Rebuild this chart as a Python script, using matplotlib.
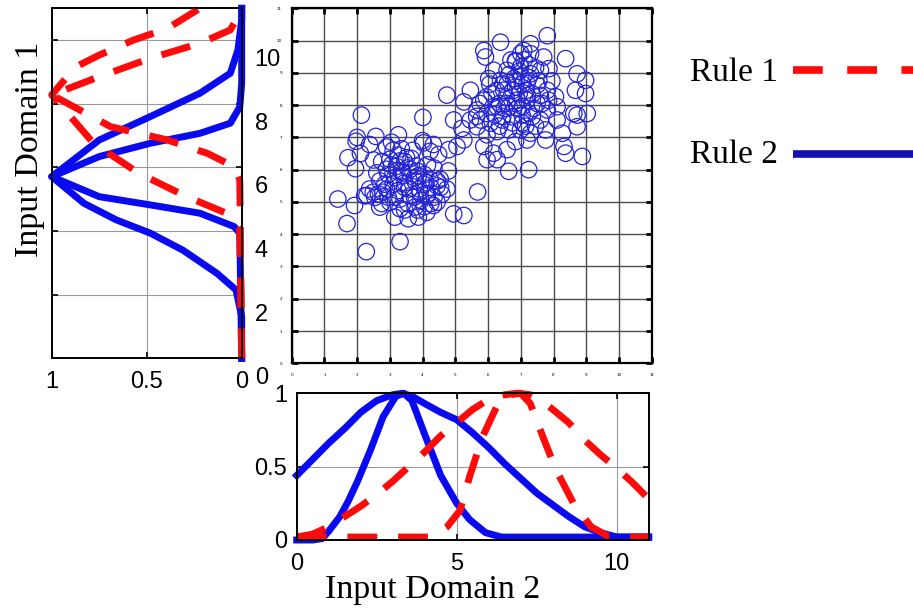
"""
Reglas difusas sobre dos dominios de entrada: nube de puntos en el centro,
funciones de pertenencia proyectadas a la izquierda (dominio 1) y abajo (dominio 2).
"""

import matplotlib.pyplot as plt
from matplotlib.lines import Line2D
from matplotlib.transforms import ScaledTranslation

# ---------------------------------------------------------------
# Datos
# ---------------------------------------------------------------
# grupo 1 (abajo-izquierda)
pts1_x = [2.13, 4.01, 1.97, 2.57, 3.26, 2.38, 1.72, 1.95, 1.41, 1.92, 1.69, 2.28,
          3.31, 4.03, 4.33, 4.23, 4.49, 4.79, 4.95, 5.26, 3.00, 3.31, 3.51, 2.90,
          3.21, 3.62, 3.82, 2.69, 2.38, 2.23, 2.54, 2.90, 3.10, 3.46, 3.77, 4.03,
          4.23, 4.44, 3.92, 4.13, 3.62, 3.31, 3.00, 2.69, 3.15, 3.56, 3.87, 4.13,
          4.44, 4.59, 4.33, 2.79, 3.41, 3.87, 4.54, 4.74, 2.49, 3.31, 3.77, 5.68,
          4.80, 3.20, 3.40, 3.90, 4.10, 3.60, 2.60, 2.10, 2.50, 2.00, 2.30, 3.70,
          4.00, 3.10, 2.90,
          3.05, 3.25, 3.45, 3.65, 3.35, 3.55, 3.15, 2.95, 3.75, 3.45, 3.85, 4.05,
          4.25, 4.15, 3.95, 4.35, 3.75, 3.55, 4.05, 3.25, 2.85, 2.65, 2.95, 4.45,
          3.35, 3.05, 4.15, 4.35, 2.75, 3.85, 4.25, 3.45, 2.75, 3.15, 4.55]
pts1_y = [7.69, 7.62, 6.88, 7.03, 7.08, 6.78, 6.37, 6.03, 5.09, 4.89, 4.33, 3.46,
          3.77, 6.83, 6.78, 6.57, 6.47, 5.96, 4.63, 4.58, 6.32, 6.27, 6.37, 6.01,
          5.96, 6.01, 6.11, 5.65, 5.40, 5.19, 5.14, 5.40, 5.55, 5.60, 5.65, 5.55,
          5.70, 5.50, 5.30, 5.19, 5.19, 5.09, 4.99, 4.84, 4.53, 4.48, 4.53, 4.68,
          4.99, 5.24, 4.89, 5.30, 5.81, 5.81, 5.70, 5.40, 5.30, 4.79, 4.84, 5.31,
          6.62, 6.10, 5.90, 5.40, 5.60, 5.40, 5.90, 6.50, 6.30, 7.00, 5.20, 6.60,
          6.90, 6.60, 6.70,
          6.15, 6.45, 6.25, 6.35, 5.95, 6.05, 5.75, 5.85, 5.75, 5.45, 5.95, 5.85,
          5.45, 5.25, 5.05, 5.15, 5.15, 4.95, 4.85, 5.35, 5.55, 5.25, 5.15, 5.65,
          6.65, 6.85, 6.15, 6.05, 6.25, 4.75, 4.95, 4.75, 4.95, 5.15, 5.45]

# grupo 2 (arriba-derecha)
pts2_x = [7.81, 6.38, 5.87, 5.92, 7.09, 7.30, 7.70, 8.37, 6.84, 6.99, 6.58, 6.17,
          6.02, 6.38, 6.79, 7.30, 7.60, 7.86, 8.72, 8.98, 8.98, 8.67, 9.03, 8.72,
          4.74, 5.46, 5.26, 4.95, 5.20, 5.05, 5.26, 5.66, 5.87, 6.12, 6.48, 6.84,
          7.19, 7.50, 7.81, 8.06, 8.11, 7.81, 7.50, 7.19, 6.89, 6.58, 6.28, 5.97,
          5.77, 6.07, 6.43, 6.73, 7.04, 7.35, 7.60, 7.76, 7.30, 6.99, 6.63, 6.28,
          5.97, 5.66, 5.46, 5.87, 6.17, 6.58, 6.28, 6.63, 7.24, 7.19, 7.76, 8.32,
          8.37, 8.72, 8.88, 8.62, 8.11, 5.97, 6.84, 8.27, 6.60, 7.00, 7.20, 6.90,
          7.40, 7.10, 6.70, 7.60, 6.20, 6.50, 7.00, 7.30,
          6.55, 6.75, 6.95, 7.15, 7.35, 6.45, 6.85, 7.05, 7.25, 6.65, 6.95, 7.45,
          6.25, 6.35, 6.65, 6.85, 7.05, 7.25, 6.45, 6.15, 5.95, 6.05, 7.55, 7.65,
          7.85, 7.95, 6.35, 6.75, 7.15, 6.85, 7.25, 5.75, 5.65, 7.45, 7.05]
pts2_y = [10.15, 9.95, 9.69, 9.49, 9.69, 9.59, 9.49, 9.44, 9.38, 9.18, 9.08, 9.08,
          8.82, 8.77, 8.82, 8.97, 9.08, 9.13, 8.97, 8.77, 8.36, 8.46, 7.74, 7.69,
          8.31, 8.46, 8.10, 7.54, 7.28, 6.72, 6.92, 7.85, 8.15, 8.36, 8.46, 8.56,
          8.67, 8.62, 8.46, 8.26, 7.95, 7.85, 8.05, 8.15, 8.15, 8.05, 7.95, 7.74,
          7.54, 7.44, 7.54, 7.64, 7.69, 7.64, 7.54, 7.23, 7.13, 7.23, 7.23, 7.18,
          7.08, 7.33, 7.54, 6.72, 6.51, 6.62, 6.31, 5.95, 6.00, 6.92, 6.92, 6.72,
          6.51, 7.33, 6.41, 7.74, 7.54, 6.31, 6.87, 7.13, 8.70, 8.90, 8.30, 7.90,
          7.90, 9.40, 9.40, 8.30, 7.70, 7.90, 9.60, 9.90,
          8.25, 8.45, 8.35, 8.45, 8.35, 8.65, 8.75, 8.65, 8.85, 8.95, 9.05, 9.15,
          8.45, 8.05, 7.95, 8.05, 7.95, 7.75, 7.65, 7.95, 8.25, 8.65, 8.75, 8.05,
          8.15, 8.75, 7.35, 7.45, 7.35, 9.35, 9.25, 8.05, 7.65, 7.35, 7.45]

# pertenencias en el dominio 2 (panel inferior)
r1_ancha_x2 = [0, 0.5, 1, 1.5, 2, 2.5, 3, 3.5, 4, 4.5, 5, 5.5, 6, 6.5, 6.9, 7.3,
               7.6, 8, 8.5, 9, 9.5, 10, 10.5, 11]
r1_ancha_mu2 = [0.02, 0.04, 0.09, 0.16, 0.23, 0.31, 0.40, 0.50, 0.60, 0.71, 0.80,
                0.89, 0.96, 0.99, 1.0, 0.99, 0.96, 0.89, 0.80, 0.68, 0.58, 0.49,
                0.39, 0.28]
r1_estrecha_x2 = [0, 1, 2, 3, 4, 4.2, 4.7, 5.1, 5.4, 5.8, 6.25, 6.65, 7.0, 7.3,
                  7.7, 8.1, 8.65, 9.2, 9.7, 10.5, 11]
r1_estrecha_mu2 = [0.02, 0.02, 0.02, 0.02, 0.02, 0.02, 0.09, 0.20, 0.43, 0.70,
                   0.91, 0.99, 1.0, 0.93, 0.70, 0.48, 0.25, 0.09, 0.03, 0.02, 0.02]
r2_ancha_x2 = [0, 0.5, 1, 1.5, 2, 2.5, 3, 3.3, 3.6, 4, 4.5, 5, 5.5, 6, 6.5, 7,
               7.5, 8, 8.5, 9, 9.5, 10, 10.5, 11]
r2_ancha_mu2 = [0.44, 0.55, 0.66, 0.76, 0.87, 0.95, 0.99, 1.0, 0.98, 0.93, 0.87,
                0.82, 0.73, 0.63, 0.52, 0.42, 0.32, 0.24, 0.16, 0.09, 0.05, 0.02,
                0.02, 0.02]
r2_estrecha_x2 = [0, 0.5, 0.8, 1.0, 1.35, 1.6, 1.9, 2.3, 2.7, 3.1, 3.35, 3.6, 4.0,
                  4.5, 5.0, 5.4, 5.9, 6.4, 7, 8, 9, 10, 11]
r2_estrecha_mu2 = [0.0, 0.0, 0.01, 0.06, 0.16, 0.26, 0.40, 0.61, 0.84, 0.98, 1.0,
                   0.95, 0.72, 0.44, 0.25, 0.14, 0.05, 0.02, 0.02, 0.02, 0.02,
                   0.02, 0.02]

# pertenencias en el dominio 1 (panel izquierdo)
r1_ancha_x1 = [0, 4.03, 4.56, 5.08, 5.81, 6.76, 8.28, 8.7, 9.17, 9.53, 10.0, 10.37, 11]
r1_ancha_mu1 = [0, 0.01, 0.08, 0.29, 0.54, 0.78, 1.0, 0.94, 0.87, 0.75, 0.57, 0.39, 0.22]
r1_estrecha_x1 = [0, 5.6, 6.02, 6.44, 6.86, 7.28, 8.28, 8.85, 9.43, 9.9, 10.32, 10.84, 11]
r1_estrecha_mu1 = [0, 0.01, 0.04, 0.18, 0.39, 0.69, 1.0, 0.75, 0.48, 0.22, 0.06, 0.01, 0]
r2_ancha_x1 = [0, 1.31, 2.15, 2.67, 3.40, 3.93, 4.35, 4.87, 5.71, 6.86, 7.6, 8.33,
               8.96, 9.69, 10.63, 11]
r2_ancha_mu1 = [0, 0, 0.03, 0.13, 0.31, 0.48, 0.66, 0.83, 1.0, 0.75, 0.48, 0.22,
                0.06, 0.02, 0, 0]
r2_estrecha_x1 = [0, 3.93, 4.14, 4.56, 4.82, 5.08, 5.71, 6.34, 6.76, 7.07, 7.39, 7.9, 8.64, 11]
r2_estrecha_mu1 = [0, 0.01, 0.04, 0.22, 0.48, 0.75, 1.0, 0.75, 0.48, 0.22, 0.06, 0.01, 0, 0]

ticks_mu_izq = [1, 0.5, 0]
ticks_mu_inf = [0, 0.5, 1]
ticks_dom2 = [0, 5, 10]
ticks_dom1 = [0, 2, 4, 6, 8, 10]
ticks_nube = list(range(12))

# ---------------------------------------------------------------
# Estilo
# ---------------------------------------------------------------
ROJO = "#ff0a0a"
AZUL = "#0a0af0"
SANS = "Liberation Sans"
SERIF = "Liberation Serif"
LW = 5.0
DASH = (4.3, 3.0)

W, H = 913, 611
fig = plt.figure(figsize=(W / 100, H / 100), dpi=100)


def caja(x0, y0, x1, y1):
    # rectángulo en píxeles -> fracción de figura
    return [x0 / W, 1 - y1 / H, (x1 - x0) / W, (y1 - y0) / H]


def curva(ax, x, y, color, dashed):
    kw = dict(color=color, lw=LW, clip_on=False, solid_joinstyle="round")
    if dashed:
        kw.update(dashes=DASH, dash_capstyle="butt")
    ax.plot(x, y, **kw)


def marco(ax, grid_color="0.6", grid_lw=0.8):
    ax.grid(True, color=grid_color, lw=grid_lw)
    ax.set_axisbelow(True)
    ax.tick_params(direction="in", length=4, width=1.2, top=True, right=True,
                   labelsize=17)
    for s in ax.spines.values():
        s.set_linewidth(1.4)
    for lab in ax.get_xticklabels() + ax.get_yticklabels():
        lab.set_family(SANS)


# ---------------- panel izquierdo: dominio 1 ----------------
ax_l = fig.add_axes(caja(51.7, 8.3, 241.7, 358.3))
ax_l.set_xlim(1, 0)
ax_l.set_ylim(0, 11)
ax_l.set_xticks(ticks_mu_izq)
ax_l.set_xticklabels([f"{v:g}" for v in ticks_mu_izq])
ax_l.set_yticks(ticks_dom1)
marco(ax_l)
ax_l.tick_params(axis="x", pad=9)
ax_l.tick_params(axis="y", labelleft=False, labelright=False)
# etiquetas del dominio 1 a la derecha, algo desplazadas hacia abajo
desplaza = ScaledTranslation(0.13, -0.20, fig.dpi_scale_trans)
for v in ticks_dom1:
    ax_l.text(1.0, v, f"{v}", transform=ax_l.get_yaxis_transform() + desplaza,
              ha="left", va="center", fontsize=17, family=SANS)

curva(ax_l, r2_ancha_mu1, r2_ancha_x1, AZUL, False)
curva(ax_l, r2_estrecha_mu1, r2_estrecha_x1, AZUL, False)
curva(ax_l, r1_ancha_mu1, r1_ancha_x1, ROJO, True)
curva(ax_l, r1_estrecha_mu1, r1_estrecha_x1, ROJO, True)

# ---------------- nube de puntos ----------------
ax_s = fig.add_axes(caja(291.7, 8.3, 651.7, 363.3))
ax_s.set_xlim(0, 11)
ax_s.set_ylim(0, 11)
ax_s.set_xticks(ticks_nube)
ax_s.set_yticks(ticks_nube)
ax_s.grid(True, color="0.3", lw=1.0)
ax_s.set_axisbelow(True)
ax_s.tick_params(direction="in", length=4, width=2.0, top=True, right=True,
                 labelsize=3, pad=7)
for s in ax_s.spines.values():
    s.set_linewidth(1.6)
ax_s.scatter(pts1_x + pts2_x, pts1_y + pts2_y, s=140, facecolors="none",
             edgecolors="#2424d8", linewidths=0.9, zorder=3)

# ---------------- panel inferior: dominio 2 ----------------
ax_b = fig.add_axes(caja(296.7, 393.3, 648.7, 540))
ax_b.set_xlim(0, 11)
ax_b.set_ylim(0, 1)
ax_b.set_xticks(ticks_dom2)
ax_b.set_yticks(ticks_mu_inf)
ax_b.set_yticklabels([f"{v:g}" for v in ticks_mu_inf])
marco(ax_b)
ax_b.tick_params(axis="x", pad=9)
ax_b.tick_params(axis="y", pad=7)

curva(ax_b, r2_ancha_x2, r2_ancha_mu2, AZUL, False)
curva(ax_b, r2_estrecha_x2, r2_estrecha_mu2, AZUL, False)
curva(ax_b, r1_ancha_x2, r1_ancha_mu2, ROJO, True)
curva(ax_b, r1_estrecha_x2, r1_estrecha_mu2, ROJO, True)

# ---------------- títulos de ejes ----------------
fig.text(433 / W, 1 - 590 / H, "Input Domain 2", ha="center", va="center",
         fontsize=24.5, family=SERIF)
fig.text(30 / W, 1 - 149 / H, "Input Domain 1", ha="center", va="center",
         rotation=90, fontsize=24.5, family=SERIF)

# ---------------- leyenda ----------------
fig.text(690 / W, 1 - 73 / H, "Rule 1", ha="left", va="center", fontsize=24,
         family=SERIF)
fig.text(690 / W, 1 - 155 / H, "Rule 2", ha="left", va="center", fontsize=24,
         family=SERIF)
fig.add_artist(Line2D([793 / W, 1.0], [1 - 70 / H] * 2, transform=fig.transFigure,
                      color=ROJO, lw=5.5, dashes=(3.9, 3.2), dash_capstyle="butt"))
fig.add_artist(Line2D([793 / W, 1.0], [1 - 154 / H] * 2, transform=fig.transFigure,
                      color="#1212b4", lw=5.5, solid_capstyle="butt"))

fig.savefig("out.png", dpi=100)
